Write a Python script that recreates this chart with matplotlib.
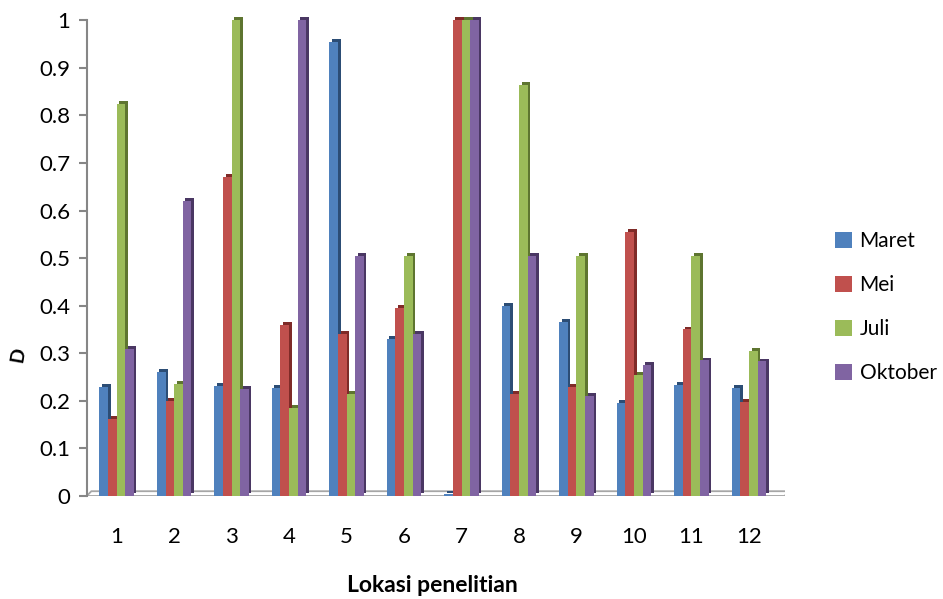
import matplotlib.pyplot as plt
import numpy as np
from matplotlib.patches import Polygon

plt.rcParams['font.family'] = ['Lato', 'DejaVu Sans']

# Nilai per lokasi penelitian untuk tiap bulan pengamatan
lokasi = ['1', '2', '3', '4', '5', '6', '7', '8', '9', '10', '11', '12']
maret = [0.23, 0.26, 0.232, 0.228, 0.955, 0.33, 0.004, 0.40, 0.365, 0.195, 0.233, 0.228]
mei = [0.162, 0.20, 0.67, 0.36, 0.34, 0.395, 1.0, 0.215, 0.23, 0.555, 0.35, 0.198]
juli = [0.825, 0.235, 1.0, 0.185, 0.215, 0.505, 1.0, 0.865, 0.505, 0.255, 0.505, 0.305]
oktober = [0.31, 0.62, 0.225, 1.0, 0.505, 0.34, 1.0, 0.505, 0.21, 0.275, 0.285, 0.283]

series = [('Maret', maret, '#4f81bd', '#2c4d75'),
          ('Mei', mei, '#c0504d', '#7f2b28'),
          ('Juli', juli, '#9bbb59', '#5e7530'),
          ('Oktober', oktober, '#8064a2', '#4a3763')]

fig = plt.figure(figsize=(9.43, 5.99), dpi=100)
ax = fig.add_axes([0.092, 0.172, 0.74, 0.81])

x = np.arange(1, len(lokasi) + 1)
w = 0.15
dx, dy = 0.045, 0.006  # kedalaman efek 3D

# lantai grafik
floor = Polygon([(0.48, 0), (12.62, 0), (12.62 + 0.08, 0.010), (0.48 + 0.08, 0.010)],
                closed=True, facecolor='white', edgecolor='#a6a6a6', lw=1.3, zorder=1)
ax.add_patch(floor)

for i, (nama, vals, col, dark) in enumerate(series):
    pos = x + (i - 1.5) * w
    # sisi samping / bayangan batang
    ax.bar(pos + dx, vals, w, bottom=dy, color=dark, zorder=2 + i * 2)
    ax.bar(pos, vals, w, color=col, label=nama, zorder=3 + i * 2)

ax.set_xlim(0.48, 12.62)
ax.set_ylim(0, 1.02)
ax.set_yticks(np.arange(0, 1.01, 0.1))
ax.set_yticklabels(['0', '0.1', '0.2', '0.3', '0.4', '0.5', '0.6', '0.7', '0.8', '0.9', '1'])
ax.set_xticks(x)
ax.set_xticklabels(lokasi)

for s in ['top', 'right', 'bottom']:
    ax.spines[s].set_visible(False)
ax.spines['left'].set_color('#868686')
ax.spines['left'].set_linewidth(1.5)
ax.spines['left'].set_bounds(0, 1.0)
ax.tick_params(axis='y', colors='#868686', length=6, width=1.5, labelsize=16,
               labelcolor='black', pad=6)
ax.tick_params(axis='x', length=0, labelsize=16, pad=22)

fig.text(0.459, 0.022, 'Lokasi penelitian', fontsize=16.5, fontweight='bold',
         ha='center', va='center')
fig.text(0.019, 0.408, 'D', fontsize=14, fontweight='bold', rotation=80,
         ha='center', va='center')

ax.legend(loc='center left', bbox_to_anchor=(0.874, 0.487), bbox_transform=fig.transFigure,
          frameon=False, fontsize=15, borderpad=0, handlelength=0.85, handleheight=0.85,
          labelspacing=1.15, handletextpad=0.35)

fig.savefig('out.png', dpi=100)
